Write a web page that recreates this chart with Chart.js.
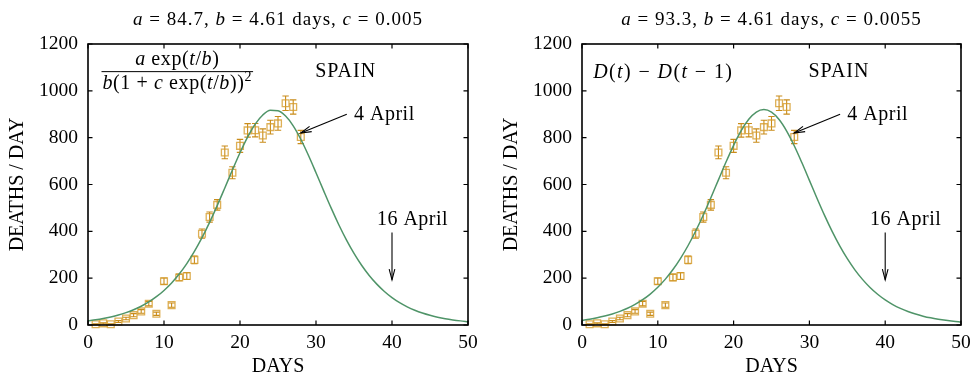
<!DOCTYPE html>
<html><head><meta charset="utf-8">
<script src="https://cdn.jsdelivr.net/npm/chart.js@4/dist/chart.umd.min.js"></script>
<style>
html,body{margin:0;padding:0;background:#fff;}
#wrap{position:relative;width:971px;height:381px;overflow:hidden;background:#fff;}
.box{position:absolute;top:0;height:381px;}
#b1{left:0;width:485px;}
#b2{left:494px;width:477px;}
</style></head><body>
<div id="wrap">
<div class="box" id="b1"><canvas id="c1" width="485" height="381"></canvas></div>
<div class="box" id="b2"><canvas id="c2" width="477" height="381"></canvas></div>
</div>
<script>
// ---- data ----
const days = [1,2,3,4,5,6,7,8,9,10,11,12,13,14,15,16,17,18,19,20,21,22,23,24,25,26,27,28];
const deaths = [3,7,3,15,28,42,58,91,48,187,85,203,209,278,390,461,513,737,650,765,831,832,809,845,861,947,931,803];
const deathErrors = [1.7,2.6,1.7,3.9,5.3,6.5,7.6,9.5,6.9,13.7,9.2,14.2,14.5,16.7,19.7,21.5,22.6,27.1,25.5,27.7,28.8,28.8,28.4,29.1,29.3,30.8,30.5,28.3];
const fitDays = [0,1,2,3,4,5,6,7,8,9,10,11,12,13,14,15,16,17,18,19,20,21,22,23,24,25,26,27,28,29,30,31,32,33,34,35,36,37,38,39,40,41,42,43,44,45,46,47,48,49,50];
const fitLeft = [18.2,22.5,27.9,34.6,42.7,52.8,65.1,80.2,98.5,120.8,147.6,179.7,217.7,262.4,314.0,372.9,438.5,509.9,585.3,661.8,735.8,802.7,857.9,897.0,916.7,915.1,892.3,850.6,793.3,725.0,650.4,573.9,498.9,428.3,363.6,305.8,255.2,211.6,174.5,143.3,117.2,95.5,77.7,63.1,51.1,41.4,33.5,27.0,21.8,17.6,14.2];
const fitRight = [20.0,24.8,30.7,38.0,47.0,58.0,71.4,87.9,107.9,132.1,161.2,195.9,236.8,284.6,339.5,401.4,469.9,543.4,619.8,695.8,767.3,829.8,878.5,909.5,919.9,908.9,877.4,828.2,765.4,693.7,617.7,541.3,467.9,399.6,337.8,283.1,235.6,194.8,160.3,131.4,107.3,87.4,71.0,57.6,46.7,37.8,30.5,24.7,19.9,16.0,12.9];
const xTicks = [0,10,20,30,40,50];
const yTicks = [0,200,400,600,800,1000,1200];
const titleLeft = [{t:'a',i:1},{t:' = 84.7, '},{t:'b',i:1},{t:' = 4.61 days, '},{t:'c',i:1},{t:' = 0.005'}];
const titleRight = [{t:'a',i:1},{t:' = 93.3, '},{t:'b',i:1},{t:' = 4.61 days, '},{t:'c',i:1},{t:' = 0.0055'}];

const FONT = '"Liberation Serif", "DejaVu Serif", serif';
const GREEN = '#4f9468';
const GOLD = 'rgba(214,156,44,0.8)';
const GOLD_BAR = '#c98c1a';

function setLS(ctx, ls) { if ('letterSpacing' in ctx) ctx.letterSpacing = ls + 'px'; }
function drawRich(ctx, segs, x, y, size, align, ls) {
  ls = ls || 0;
  ctx.save();
  ctx.textBaseline = 'alphabetic'; ctx.textAlign = 'left'; ctx.fillStyle = '#000';
  setLS(ctx, ls);
  const parts = segs.map(s => {
    const sz = s.sup ? size * 0.7 : size;
    const f = (s.i ? 'italic ' : '') + sz + 'px ' + FONT;
    ctx.font = f;
    return {t: s.t, f, w: ctx.measureText(s.t).width, dy: s.sup ? -size * 0.42 : 0};
  });
  const total = parts.reduce((a, p) => a + p.w, 0);
  let cx = align === 'center' ? x - total / 2 : (align === 'right' ? x - total : x);
  parts.forEach(p => { ctx.font = p.f; ctx.fillText(p.t, cx, y + p.dy); cx += p.w; });
  ctx.restore();
  return total;
}
function richWidth(ctx, segs, size, ls) {
  ctx.save();
  setLS(ctx, ls || 0);
  let w = 0;
  segs.forEach(s => { const sz = s.sup ? size * 0.7 : size; ctx.font = (s.i ? 'italic ' : '') + sz + 'px ' + FONT; w += ctx.measureText(s.t).width; });
  ctx.restore();
  return w;
}
function arrow(ctx, x1, y1, x2, y2) {
  ctx.beginPath(); ctx.moveTo(x1, y1); ctx.lineTo(x2, y2); ctx.stroke();
  const a = Math.atan2(y2 - y1, x2 - x1), L = 11, w = 0.26;
  ctx.beginPath();
  ctx.moveTo(x2 - L * Math.cos(a - w), y2 - L * Math.sin(a - w));
  ctx.lineTo(x2, y2);
  ctx.lineTo(x2 - L * Math.cos(a + w), y2 - L * Math.sin(a + w));
  ctx.stroke();
}

const numer = [{t:'a',i:1},{t:' exp('},{t:'t',i:1},{t:'/'},{t:'b',i:1},{t:')'}];
const denom = [{t:'b',i:1},{t:'(1 + '},{t:'c',i:1},{t:' exp('},{t:'t',i:1},{t:'/'},{t:'b',i:1},{t:'))'},{t:'2',sup:1}];
const diffLabel = [{t:'D',i:1},{t:'('},{t:'t',i:1},{t:') − '},{t:'D',i:1},{t:'('},{t:'t',i:1},{t:' − 1)'}];

const decor = {
  id: 'decor',
  beforeDatasetsDraw(chart) {
    const ctx = chart.ctx, xs = chart.scales.x, ys = chart.scales.y;
    ctx.save();
    ctx.strokeStyle = GOLD_BAR; ctx.lineWidth = 1.1;
    days.forEach((d, k) => {
      const px = xs.getPixelForValue(d);
      const lo = ys.getPixelForValue(deaths[k] - deathErrors[k]);
      const hi = ys.getPixelForValue(deaths[k] + deathErrors[k]);
      ctx.beginPath();
      ctx.moveTo(px, lo); ctx.lineTo(px, hi);
      ctx.moveTo(px - 3.2, lo); ctx.lineTo(px + 3.2, lo);
      ctx.moveTo(px - 3.2, hi); ctx.lineTo(px + 3.2, hi);
      ctx.stroke();
    });
    ctx.restore();
  },
  afterDatasetsDraw(chart, args, opts) {
    const ctx = chart.ctx, xs = chart.scales.x, ys = chart.scales.y;
    const {left, right, top, bottom} = chart.chartArea;
    const X = v => xs.getPixelForValue(v), Y = v => ys.getPixelForValue(v);
    ctx.save();
    // frame
    ctx.strokeStyle = '#000'; ctx.lineWidth = 1.6;
    ctx.strokeRect(left, top, right - left, bottom - top);
    ctx.lineWidth = 1.2;
    ctx.beginPath();
    xTicks.forEach(v => { const p = X(v); ctx.moveTo(p, bottom); ctx.lineTo(p, bottom - 4.5); ctx.moveTo(p, top); ctx.lineTo(p, top + 4.5); });
    yTicks.forEach(v => { const p = Y(v); ctx.moveTo(left, p); ctx.lineTo(left + 4.5, p); ctx.moveTo(right, p); ctx.lineTo(right - 4.5, p); });
    ctx.stroke();
    // title
    drawRich(ctx, opts.title, (left + right) / 2, 24.5, 19, 'center', 1.0);
    // SPAIN
    drawRich(ctx, [{t:'SPAIN'}], X(33.9), Y(1057), 20, 'center', 1.0);
    // formula
    if (opts.formula === 'fraction') {
      const cx = X(11.75);
      const wn = richWidth(ctx, numer, 20, 0.6), wd = richWidth(ctx, denom, 20, 0.6);
      drawRich(ctx, numer, cx, Y(1110), 20, 'center', 0.6);
      drawRich(ctx, denom, cx, Y(1006), 20, 'center', 0.6);
      const bw = Math.max(wn, wd) + 2;
      ctx.strokeStyle = '#000'; ctx.lineWidth = 1;
      ctx.beginPath(); ctx.moveTo(cx - bw / 2, Y(1082)); ctx.lineTo(cx + bw / 2, Y(1082)); ctx.stroke();
    } else {
      drawRich(ctx, diffLabel, X(10.72), Y(1055), 20, 'center', 1.4);
    }
    // annotations
    drawRich(ctx, [{t:'4 April'}], X(35.0), Y(875), 20, 'left', 0.5);
    drawRich(ctx, [{t:'16 April'}], X(42.7), Y(427), 20, 'center', 0.5);
    ctx.strokeStyle = '#000'; ctx.lineWidth = 1.1;
    arrow(ctx, X(34.05), Y(900), X(28.0), Y(820));
    arrow(ctx, X(40), Y(395), X(40), Y(193));
    ctx.restore();
  }
};

function makeChart(id, fit, title, formula, rightPad) {
  const tickFont = {family: FONT, size: 19.5};
  const titleFont = {family: FONT, size: 20};
  return new Chart(document.getElementById(id), {
    type: 'scatter',
    data: {
      datasets: [
        {
          data: fitDays.map((d, k) => ({x: d, y: fit[k]})),
          showLine: true, borderColor: GREEN, borderWidth: 1.5, pointRadius: 0,
          cubicInterpolationMode: 'monotone', fill: false
        },
        {
          data: days.map((d, k) => ({x: d, y: deaths[k]})),
          showLine: false, pointStyle: 'rect', pointRadius: 4.8, borderWidth: 1.3,
          borderColor: GOLD, backgroundColor: 'rgba(0,0,0,0)', clip: false
        }
      ]
    },
    options: {
      responsive: false, animation: false, events: [],
      layout: {padding: {top: 44, right: rightPad, left: 0, bottom: 0}},
      plugins: {legend: {display: false}, tooltip: {enabled: false}, title: {display: false},
        decor: {title, formula}},
      scales: {
        x: {
          type: 'linear', min: 0, max: 50,
          afterBuildTicks: s => { s.ticks = xTicks.map(v => ({value: v})); },
          ticks: {font: tickFont, color: '#000', padding: 6, maxRotation: 0, autoSkip: false, callback: v => String(v)},
          grid: {display: false, drawTicks: false}, border: {display: false},
          title: {display: true, text: 'DAYS', font: titleFont, color: '#000', padding: {top: 0, bottom: 2}},
          afterFit: s => { s.height = 56; s.paddingLeft = 0; s.paddingRight = 0; }
        },
        y: {
          type: 'linear', min: 0, max: 1200,
          afterBuildTicks: s => { s.ticks = yTicks.map(v => ({value: v})); },
          ticks: {font: tickFont, color: '#000', padding: 10, autoSkip: false, callback: v => String(v)},
          grid: {display: false, drawTicks: false}, border: {display: false},
          title: {display: true, text: 'DEATHS / DAY', font: titleFont, color: '#000', padding: {top: 6, bottom: 0}},
          afterFit: s => { s.width = 88; s.paddingTop = 0; s.paddingBottom = 0; }
        }
      }
    },
    plugins: [decor]
  });
}
makeChart('c1', fitLeft, titleLeft, 'fraction', 17);
makeChart('c2', fitRight, titleRight, 'diff', 10);
</script>
</body></html>
